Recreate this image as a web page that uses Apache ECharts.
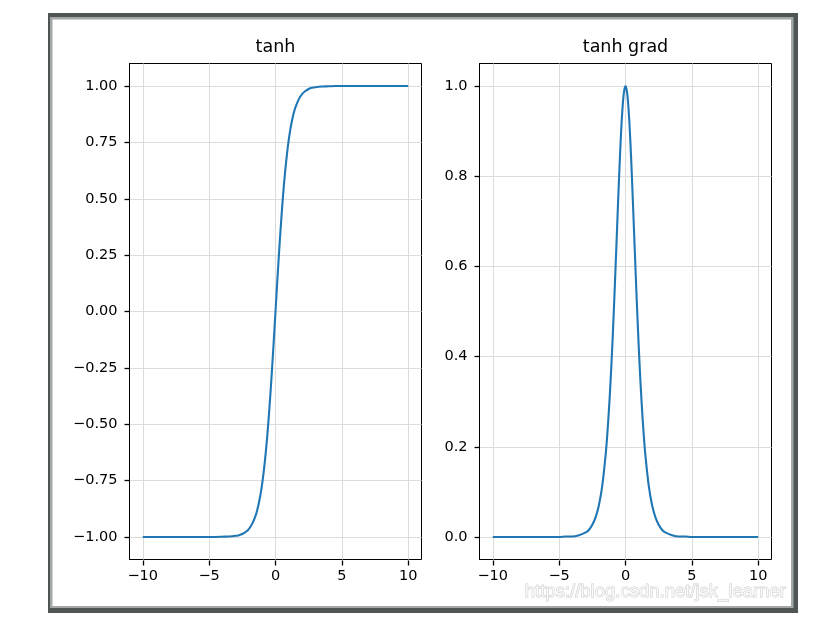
<!DOCTYPE html>
<html>
<head>
<meta charset="utf-8">
<script src="https://cdn.jsdelivr.net/npm/echarts@6/dist/echarts.min.js"></script>
<style>
html,body{margin:0;padding:0;background:#fff;}
#chart{width:823px;height:627px;}
</style>
</head>
<body>
<div id="chart"></div>
<script>
// ---- data ----
const titles = ['tanh', 'tanh grad'];
const xs = [-10,-9,-8,-7,-6,-5,-4.5,-4,-3.5,-3,-2.75,-2.5,-2.25,-2,-1.75,-1.5,-1.375,-1.25,-1.125,-1,-0.875,-0.75,-0.625,-0.5,-0.375,-0.25,-0.125,
  0,
  0.125,0.25,0.375,0.5,0.625,0.75,0.875,1,1.125,1.25,1.375,1.5,1.75,2,2.25,2.5,2.75,3,3.5,4,4.5,5,6,7,8,9,10];
const tanhVals = [-1.000,-1.000,-1.000,-1.000,-1.000,-1.000,-1.000,-0.999,-0.998,-0.995,-0.992,-0.987,-0.978,-0.964,-0.941,-0.905,-0.880,-0.848,-0.810,-0.762,-0.704,-0.635,-0.555,-0.462,-0.358,-0.245,-0.124,
  0.000,
  0.124,0.245,0.358,0.462,0.555,0.635,0.704,0.762,0.810,0.848,0.880,0.905,0.941,0.964,0.978,0.987,0.992,0.995,0.998,0.999,1.000,1.000,1.000,1.000,1.000,1.000,1.000];
const gradVals = [0.000,0.000,0.000,0.000,0.000,0.000,0.001,0.001,0.004,0.010,0.016,0.027,0.044,0.071,0.114,0.181,0.226,0.281,0.345,0.420,0.505,0.597,0.692,0.786,0.872,0.940,0.985,
  1.000,
  0.985,0.940,0.872,0.786,0.692,0.597,0.505,0.420,0.345,0.281,0.226,0.181,0.114,0.071,0.044,0.027,0.016,0.010,0.004,0.001,0.001,0.000,0.000,0.000,0.000,0.000,0.000];
const xTicks = [-10,-5,0,5,10];
const yTicksLeft = [-1,-0.75,-0.5,-0.25,0,0.25,0.5,0.75,1];
const yTicksRight = [0,0.2,0.4,0.6,0.8,1.0];
const watermark = 'https://blog.csdn.net/jsk_learner';

// ---- chart ----
const lineColor = '#1f77b4';
const txtColor = '#000000';
const fontFam = '"DejaVu Sans", sans-serif';
const minus = s => String(s).replace('-', '\u2212');

const grids = [
  {left: 129.5, top: 63.5, width: 292, height: 496},
  {left: 479.5, top: 63.5, width: 292, height: 496}
];

function xAxisOf(i){
  return {
    type: 'value', gridIndex: i, min: -11, max: 11, position: 'bottom', offset: 1,
    axisLine: {show: true, onZero: false, lineStyle: {color: 'rgba(0,0,0,0)', width: 1}},
    axisTick: {show: true, inside: false, customValues: xTicks, length: 5, lineStyle: {color: '#000', width: 1.3}},
    axisLabel: {customValues: xTicks, margin: 8, color: txtColor, fontSize: 14.5, fontFamily: fontFam,
      formatter: v => minus(v)},
    splitLine: {show: true, lineStyle: {color: '#dcdcdc', width: 1}}
  };
}
function yAxisOf(i, min, max, ticks, dec){
  return {
    type: 'value', gridIndex: i, min: min, max: max, position: 'left',
    axisLine: {show: true, onZero: false, lineStyle: {color: '#000', width: 1}},
    axisTick: {show: true, inside: false, customValues: ticks, length: 5, lineStyle: {color: '#000', width: 1.3}},
    axisLabel: {customValues: ticks, margin: 12, color: txtColor, fontSize: 14.5, fontFamily: fontFam,
      formatter: v => minus(Number(v).toFixed(dec))},
    splitLine: {show: true, lineStyle: {color: '#dcdcdc', width: 1}}
  };
}

const chart = echarts.init(document.getElementById('chart'), null, {renderer: 'canvas'});
chart.setOption({
  backgroundColor: '#fff',
  animation: false,
  grid: grids.map(g => Object.assign({show: true, borderColor: '#000', borderWidth: 1, backgroundColor: 'transparent'}, g)),
  xAxis: [xAxisOf(0), xAxisOf(1)],
  yAxis: [yAxisOf(0, -1.1, 1.1, yTicksLeft, 2), yAxisOf(1, -0.05, 1.05, yTicksRight, 1)],
  series: [
    {type: 'line', xAxisIndex: 0, yAxisIndex: 0, data: xs.map((x, k) => [x, tanhVals[k]]),
      showSymbol: false, smooth: 0.3, lineStyle: {color: lineColor, width: 2.1}},
    {type: 'line', xAxisIndex: 1, yAxisIndex: 1, data: xs.map((x, k) => [x, gradVals[k]]),
      showSymbol: false, smooth: 0.3, lineStyle: {color: lineColor, width: 2.1}}
  ],
  graphic: [
    {type: 'rect', z: -10, silent: true, shape: {x: 48, y: 13, width: 750, height: 600}, style: {fill: '#4f5555'}},
    {type: 'rect', z: -9, silent: true, shape: {x: 50, y: 17, width: 743.5, height: 591}, style: {fill: '#a3a7a7'}},
    {type: 'rect', z: -8, silent: true, shape: {x: 52.5, y: 19.5, width: 738.5, height: 586.5}, style: {fill: '#ffffff'}},
    {type: 'text', z: 10, silent: true, x: grids[0].left + grids[0].width / 2, y: 47,
      style: {text: titles[0], fill: txtColor, font: '17.5px ' + fontFam, align: 'center', verticalAlign: 'middle'}},
    {type: 'text', z: 10, silent: true, x: grids[1].left + grids[1].width / 2, y: 47,
      style: {text: titles[1], fill: txtColor, font: '17.5px ' + fontFam, align: 'center', verticalAlign: 'middle'}},
    {type: 'text', z: 20, silent: true, x: 786, y: 592,
      style: {text: watermark, fill: 'rgba(255,255,255,0.75)', stroke: 'rgba(170,170,170,0.6)', lineWidth: 1,
        font: '18.5px "Liberation Sans", Arial, sans-serif', align: 'right', verticalAlign: 'middle'}}
  ]
});
</script>
</body>
</html>
